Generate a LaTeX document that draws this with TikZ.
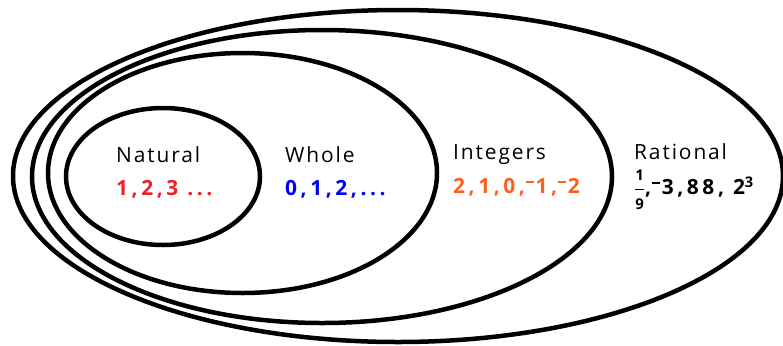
\documentclass[tikz,border=0pt]{standalone}
\usepackage{fontspec}
\setmainfont{Open Sans}[LetterSpace=9]
\newfontfamily\numfont{Open Sans}[LetterSpace=17]
\usetikzlibrary{positioning}
\definecolor{natred}{RGB}{240,30,40}
\definecolor{wholeblue}{RGB}{0,0,245}
\definecolor{intorange}{RGB}{255,95,30}
\newcommand{\upminus}{\kern0.05em\raisebox{0.5em}{\rule{0.36em}{0.1em}}\kern0.1em}
\newcommand{\smallfrac}[2]{\ensuremath{\displaystyle\frac{\mbox{\fontsize{15}{15}\selectfont\bfseries #1}}{\mbox{\fontsize{15}{15}\selectfont\bfseries #2}}}}

\begin{document}
\begin{tikzpicture}[x=1bp,y=-1bp,
    set/.style={line width=4.5bp},
    title/.style={anchor=base west,inner sep=0pt,font=\fontsize{21}{24}\selectfont},
    members/.style={inner sep=0pt,font=\numfont\fontsize{21}{24}\selectfont\bfseries}]
  \useasboundingbox (0,0) rectangle (783,345);
  % the sets, inner to outer
  \draw[set] (163,176.5) ellipse [x radius=97, y radius=68.5];
  \draw[set] (242.5,173) ellipse [x radius=194.5, y radius=120];
  \draw[set] (322,176.5) ellipse [x radius=290, y radius=146.5];
  \draw[set] (398,176) ellipse [x radius=385, y radius=166];

  \node[title] (natural) at (116,162) {Natural};
  \node[title] (whole) at (285,162) {Whole};
  \node[title] (integers) at (453,159) {Integers};
  \node[title] (rational) at (634,159) {Rational};

  \node[members,text=natred,below=18bp of natural.base west,anchor=north west] (naturalset) {1,2,3 ...};
  \node[members,text=wholeblue,below=18bp of whole.base west,anchor=north west] (wholeset) {0,1,2,...};
  \node[members,text=intorange,below=19bp of integers.base west,anchor=north west] (integerset)
    {2,1,0,\upminus1,\upminus2};
  \node[members,below=11bp of rational.base west,anchor=north west] (rationalset)
    {\smallfrac{1}{9},\upminus3,88, 2\textsuperscript{3}};
\end{tikzpicture}
\end{document}
